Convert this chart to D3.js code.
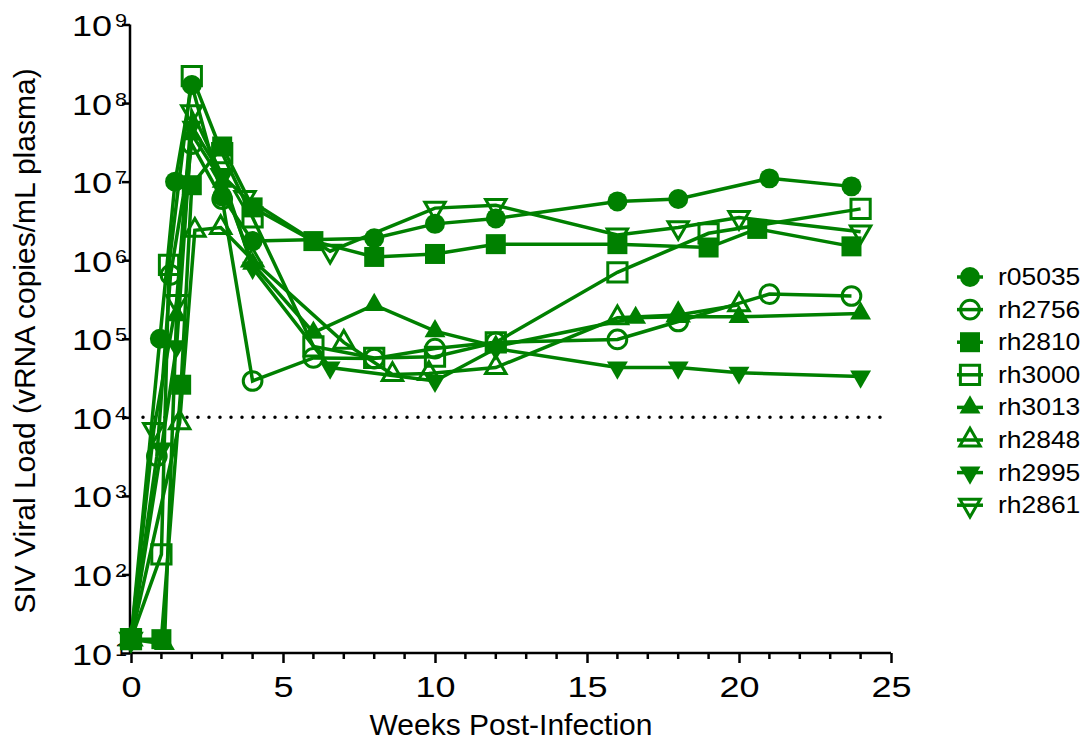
<!DOCTYPE html>
<html>
<head>
<meta charset="utf-8">
<script src="https://cdn.jsdelivr.net/npm/d3@7"></script>
<style>
  body { margin: 0; background: #fff; }
  text { font-family: "Liberation Sans", Arial, sans-serif; fill: #000; }
</style>
</head>
<body>
<div id="chart"></div>
<script>

/****************************** Data **********************************/

var animals = ["r05035", "rh2756", "rh2810", "rh3000", "rh3013", "rh2848", "rh2995", "rh2861"];

var r05035Weeks = [0, 0.95, 1.45, 2, 3, 4, 8, 10, 12, 16, 18, 21, 23.7];
var r05035Load  = [15, 1e5, 1e7, 1.7e8, 6.5e6, 1.75e6, 1.9e6, 2.9e6, 3.4e6, 5.6e6, 6e6, 1.1e7, 8.7e6];

var rh2756Weeks = [0, 0.85, 1.3, 2, 3, 4, 6, 8, 10, 12, 16, 18, 21, 23.7];
var rh2756Load  = [15, 3.2e3, 6.5e5, 3e7, 6e6, 2.9e4, 5.7e4, 5.6e4, 7.5e4, 9e4, 9.8e4, 1.66e5, 3.7e5, 3.5e5];

var rh2810Weeks = [0, 1, 1.65, 2, 3, 4, 6, 8, 10, 12, 16, 19, 20.6, 23.7];
var rh2810Load  = [15, 15, 2.6e4, 9e6, 2.8e7, 4.7e6, 1.75e6, 1.1e6, 1.2e6, 1.6e6, 1.6e6, 1.45e6, 2.5e6, 1.5e6];

var rh3000Weeks = [0, 1, 1.25, 2, 3, 4, 6, 8, 10, 12, 16, 19, 24];
var rh3000Load  = [15, 180, 8.7e5, 2.2e8, 2.3e7, 3.5e6, 8e4, 5.7e4, 5.9e4, 9e4, 7e5, 2.2e6, 4.5e6];

var rh3013Weeks = [0, 1.1, 1.5, 2, 3, 4, 6, 8, 10, 12, 16.6, 18, 20, 24];
var rh3013Load  = [15, 13, 2e5, 4e7, 1e7, 9e5, 1.2e5, 2.7e5, 1.25e5, 8e4, 1.85e5, 1.9e5, 1.9e5, 2.1e5];

var rh2848Weeks = [0, 1.6, 2.1, 2.95, 4, 7, 8.6, 9.8, 12, 16, 18, 20];
var rh2848Load  = [15, 8.5e3, 2.4e6, 2.6e6, 1e6, 9e4, 3.5e4, 3.6e4, 4.3e4, 1.85e5, 2e5, 2.7e5];

var rh2995Weeks = [0, 1, 1.5, 2, 3, 4, 6.55, 10, 12, 16, 18, 20, 24];
var rh2995Load  = [15, 4e3, 8e4, 5e7, 1.2e7, 8e5, 4.3e4, 2.9e4, 7.5e4, 4.3e4, 4.3e4, 3.7e4, 3.3e4];

var rh2861Weeks = [0, 0.75, 1.5, 2, 3, 3.75, 6.55, 10, 12, 16, 18, 20, 24];
var rh2861Load  = [15, 7e3, 3e5, 7.8e7, 1.2e7, 6.3e6, 1.3e6, 4.6e6, 5e6, 2.1e6, 2.6e6, 3.5e6, 2.3e6];

var xTicks = [0, 5, 10, 15, 20, 25];
var yExponents = [1, 2, 3, 4, 5, 6, 7, 8, 9];
var detectionLimit = 1e4;

/****************************** End Data **********************************/

var allWeeks = [r05035Weeks, rh2756Weeks, rh2810Weeks, rh3000Weeks, rh3013Weeks, rh2848Weeks, rh2995Weeks, rh2861Weeks];
var allLoads = [r05035Load, rh2756Load, rh2810Load, rh3000Load, rh3013Load, rh2848Load, rh2995Load, rh2861Load];

// symbol type, filled?, rotation
var shapes = [
  { type: d3.symbolCircle,   filled: true,  rot: 0 },
  { type: d3.symbolCircle,   filled: false, rot: 0 },
  { type: d3.symbolSquare,   filled: true,  rot: 0 },
  { type: d3.symbolSquare,   filled: false, rot: 0 },
  { type: d3.symbolTriangle, filled: true,  rot: 0 },
  { type: d3.symbolTriangle, filled: false, rot: 0 },
  { type: d3.symbolTriangle, filled: true,  rot: 180 },
  { type: d3.symbolTriangle, filled: false, rot: 180 }
];

var series = animals.map(function(name, i) {
  return {
    name: name,
    shape: shapes[i],
    values: allWeeks[i].map(function(w, j) { return { week: w, load: allLoads[i][j] }; })
  };
});

var width = 1085, height = 745;
var green = "#008000";
var stretch = 1.2;   // the original lettering runs a bit wide

var x = d3.scaleLinear().domain([0, 25]).range([131, 891]);
var y = d3.scaleLog().domain([10, 1e9]).range([653, 24.5]);

var svg = d3.select("#chart").append("svg")
  .attr("width", width)
  .attr("height", height);

function symbolSize(shape) {
  if (shape.type === d3.symbolCircle) return shape.filled ? 314 : 275;
  if (shape.type === d3.symbolSquare) return shape.filled ? 400 : 370;
  return shape.filled ? 190 : 180;
}

function symbolPath(shape) {
  return d3.symbol().type(shape.type).size(symbolSize(shape))();
}

function styleMarker(sel, shape) {
  sel.attr("d", symbolPath(shape))
    .attr("fill", shape.filled ? green : "none")
    .attr("stroke", green)
    .attr("stroke-width", shape.filled ? 0 : 3);
}

// dotted detection limit
svg.append("line")
  .attr("x1", 143)
  .attr("x2", 889)
  .attr("y1", y(detectionLimit))
  .attr("y2", y(detectionLimit))
  .attr("stroke", "#000")
  .attr("stroke-width", 3.5)
  .attr("stroke-linecap", "round")
  .attr("stroke-dasharray", "0 11");

// axes
var xAxis = d3.axisBottom(x)
  .tickValues(xTicks)
  .tickSize(10)
  .tickSizeOuter(0);

var xg = svg.append("g")
  .attr("transform", "translate(0," + 653 + ")")
  .call(xAxis);

xg.select(".domain").attr("stroke-width", 2.5).attr("d", "M130,0H891");
xg.selectAll(".tick line").attr("stroke-width", 2.5);
xg.selectAll(".tick text")
  .attr("font-size", 30)
  .attr("font-family", null)
  .attr("dy", null)
  .attr("y", 44)
  .attr("transform", "scale(" + stretch + ",1)");

// minor week ticks
xg.selectAll(".minor")
  .data(d3.range(1, 25).filter(function(d) { return d % 5 !== 0; }))
  .enter()
  .append("line")
  .attr("class", "minor")
  .attr("x1", function(d) { return x(d); })
  .attr("x2", function(d) { return x(d); })
  .attr("y1", 0)
  .attr("y2", 6)
  .attr("stroke", "#000")
  .attr("stroke-width", 2.5);

var yAxis = d3.axisLeft(y)
  .tickValues(yExponents.map(function(e) { return Math.pow(10, e); }))
  .tickSize(8)
  .tickSizeOuter(0)
  .tickFormat("");

var yg = svg.append("g")
  .attr("transform", "translate(130,0)")
  .call(yAxis);

yg.select(".domain").attr("stroke-width", 2.5).attr("d", "M0,24.5V654");
yg.selectAll(".tick line").attr("stroke-width", 2.5);

yg.selectAll(".tick").each(function(d) {
  var g = d3.select(this);
  g.select("text").remove();
  g.append("text")
    .attr("transform", "translate(-18,11) scale(" + stretch + ",1)")
    .attr("text-anchor", "end")
    .attr("font-size", 30)
    .text("10");
  g.append("text")
    .attr("transform", "translate(-15,2) scale(" + stretch + ",1)")
    .attr("text-anchor", "start")
    .attr("font-size", 18)
    .text(Math.round(Math.log10(d)));
});

// lines + markers, first animal drawn on top
var line = d3.line()
  .x(function(d) { return x(d.week); })
  .y(function(d) { return y(d.load); });

var groups = svg.selectAll(".series")
  .data(series.slice().reverse())
  .enter()
  .append("g")
  .attr("class", "series");

groups.append("path")
  .attr("fill", "none")
  .attr("stroke", green)
  .attr("stroke-width", 3.5)
  .attr("d", function(d) { return line(d.values); });

groups.each(function(s) {
  d3.select(this).selectAll(".pt")
    .data(s.values)
    .enter()
    .append("path")
    .attr("class", "pt")
    .attr("transform", function(d) {
      return "translate(" + x(d.week) + "," + y(d.load) + ") rotate(" + s.shape.rot + ")";
    })
    .call(styleMarker, s.shape);
});

// titles
svg.append("text")
  .attr("x", 511)
  .attr("y", 735)
  .attr("text-anchor", "middle")
  .attr("font-size", 30)
  .text("Weeks Post-Infection");

svg.append("text")
  .attr("transform", "translate(35,341) rotate(-90)")
  .attr("text-anchor", "middle")
  .attr("font-size", 30)
  .text("SIV Viral Load (vRNA copies/mL plasma)");

// legend
var legend = svg.selectAll(".legend")
  .data(series)
  .enter()
  .append("g")
  .attr("class", "legend")
  .attr("transform", function(d, i) { return "translate(970," + (277 + i * 32.6) + ")"; });

legend.append("line")
  .attr("x1", -13)
  .attr("x2", 13)
  .attr("stroke", green)
  .attr("stroke-width", 3.5);

legend.append("path")
  .attr("transform", function(d) { return "rotate(" + d.shape.rot + ")"; })
  .each(function(d) { d3.select(this).call(styleMarker, d.shape); });

legend.append("text")
  .attr("transform", "translate(28,8) scale(1.15,1)")
  .attr("font-size", 23)
  .text(function(d) { return d.name; });

</script>
</body>
</html>
